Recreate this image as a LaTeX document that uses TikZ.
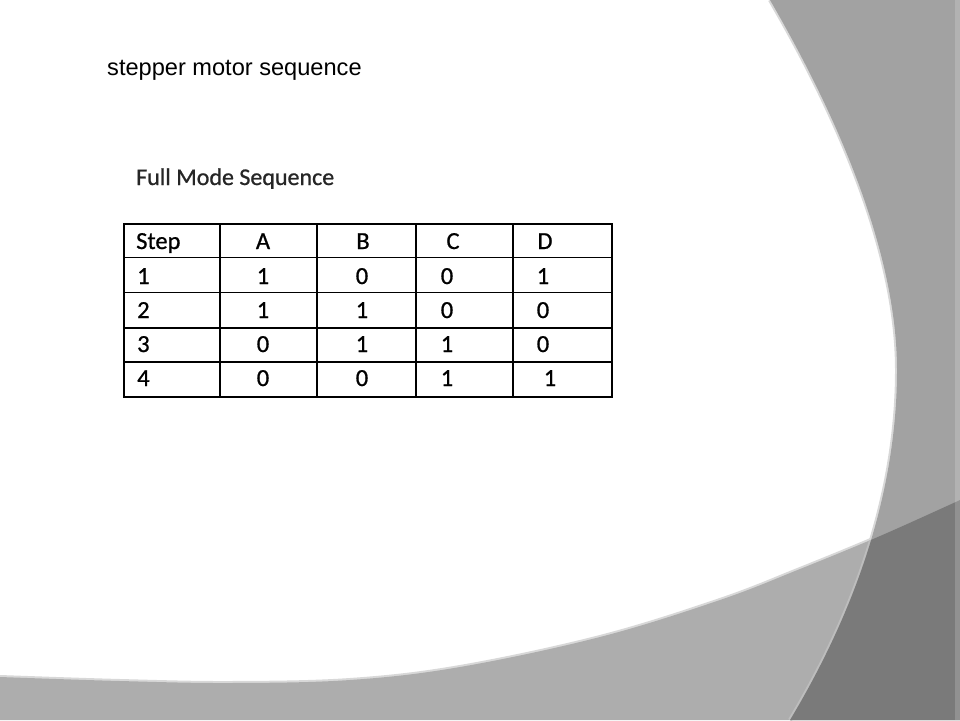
\documentclass[tikz,border=0pt]{standalone}
\usepackage{fontspec}
\setmainfont{Liberation Sans}
\newfontfamily\calfont[FakeBold=0.8]{Carlito}
\definecolor{rightgray}{HTML}{A2A2A2}
\definecolor{bandgray}{HTML}{ADADAD}
\definecolor{deepgray}{HTML}{7A7A7A}
\definecolor{fringe}{HTML}{D8D8D8}
\definecolor{fringetwo}{HTML}{BDBDBD}
\begin{document}
\begin{tikzpicture}[x=1pt,y=-1pt,
  cellw/.style={font=\calfont\fontsize{24.5}{28}\selectfont, inner sep=0pt, anchor=base, text=black},
  cellstep/.style={cellw, anchor=base west},
  gridline/.style={draw=black, line width=1.9pt},
  rimline/.style={line width=4pt}]
\useasboundingbox (0,0) rectangle (960,720);
\fill[white] (0,0) rectangle (960,720);
% soft fringes on the white side
\draw[rimline, fringe] (770,0) .. controls (835,112) and (897,250) .. (897,370) .. controls (897,500) and (850,620) .. (790,720);
\draw[rimline, fringe] plot[smooth, tension=0.6] coordinates {(0,677) (120,681) (230,683) (350,680) (460,667) (600,637) (720,600) (800,569) (880,536) (960,500)};
% right gray region
\fill[rightgray] (770,0) .. controls (835,112) and (897,250) .. (897,370) .. controls (897,500) and (850,620) .. (790,720) -- (960,720) -- (960,0) -- cycle;
% bottom band
\fill[bandgray] plot[smooth, tension=0.6] coordinates {(0,677) (120,681) (230,683) (350,680) (460,667) (600,637) (720,600) (800,569) (880,536) (960,500)} -- (960,720) -- (0,720) -- cycle;
% fringe of the rim inside the band
\begin{scope}
  \clip plot[smooth, tension=0.6] coordinates {(0,677) (120,681) (230,683) (350,680) (460,667) (600,637) (720,600) (800,569) (880,536) (960,500)} -- (960,720) -- (0,720) -- cycle;
  \draw[rimline, fringetwo] (770,0) .. controls (835,112) and (897,250) .. (897,370) .. controls (897,500) and (850,620) .. (790,720);
\end{scope}
% overlap of band and right region
\begin{scope}
  \clip (770,0) .. controls (835,112) and (897,250) .. (897,370) .. controls (897,500) and (850,620) .. (790,720) -- (960,720) -- (960,0) -- cycle;
  \fill[deepgray] plot[smooth, tension=0.6] coordinates {(0,677) (120,681) (230,683) (350,680) (460,667) (600,637) (720,600) (800,569) (880,536) (960,500)} -- (960,720) -- (0,720) -- cycle;
\end{scope}
% light strip at the right edge
\fill[white, opacity=0.18] (955,0) rectangle (960,720);

% slide title
\node[anchor=base west, inner sep=0pt, font=\fontsize{23.6}{28}\selectfont] (title) at (107,75) {stepper motor sequence};

% table heading
\node[anchor=base west, inner sep=0pt, font=\calfont\fontsize{24}{28}\selectfont, text=black!85] (fms) at (136,185) {Full Mode Sequence};

% table grid
\draw[gridline] (124,224) rectangle (612,397);
\foreach \xx in {220,317,416,513} \draw[gridline] (\xx,224) -- (\xx,397);
\foreach \yy in {257.5,292.5,328,362} \draw[gridline] (124,\yy) -- (612,\yy);

% header row
\node[cellstep] (hstep) at (136,249) {Step};
\node[cellw] (ha) at (263,249) {A};
\node[cellw] (hb) at (363,249) {B};
\node[cellw] (hc) at (453,249) {C};
\node[cellw] (hd) at (545,249) {D};
% row 1
\node[cellstep] (s1) at (137,284) {1};
\node[cellw] (a1) at (263,284) {1};
\node[cellw] (b1) at (362,284) {0};
\node[cellw] (c1) at (447,284) {0};
\node[cellw] (d1) at (543,284) {1};
% row 2
\node[cellstep] (s2) at (137,318) {2};
\node[cellw] (a2) at (263,318) {1};
\node[cellw] (b2) at (362,318) {1};
\node[cellw] (c2) at (447,318) {0};
\node[cellw] (d2) at (543,318) {0};
% row 3
\node[cellstep] (s3) at (137,352) {3};
\node[cellw] (a3) at (263,352) {0};
\node[cellw] (b3) at (362,352) {1};
\node[cellw] (c3) at (447,352) {1};
\node[cellw] (d3) at (543,352) {0};
% row 4
\node[cellstep] (s4) at (137,386) {4};
\node[cellw] (a4) at (263,386) {0};
\node[cellw] (b4) at (362,386) {0};
\node[cellw] (c4) at (447,386) {1};
\node[cellw] (d4) at (550,386) {1};
\end{tikzpicture}
\end{document}
